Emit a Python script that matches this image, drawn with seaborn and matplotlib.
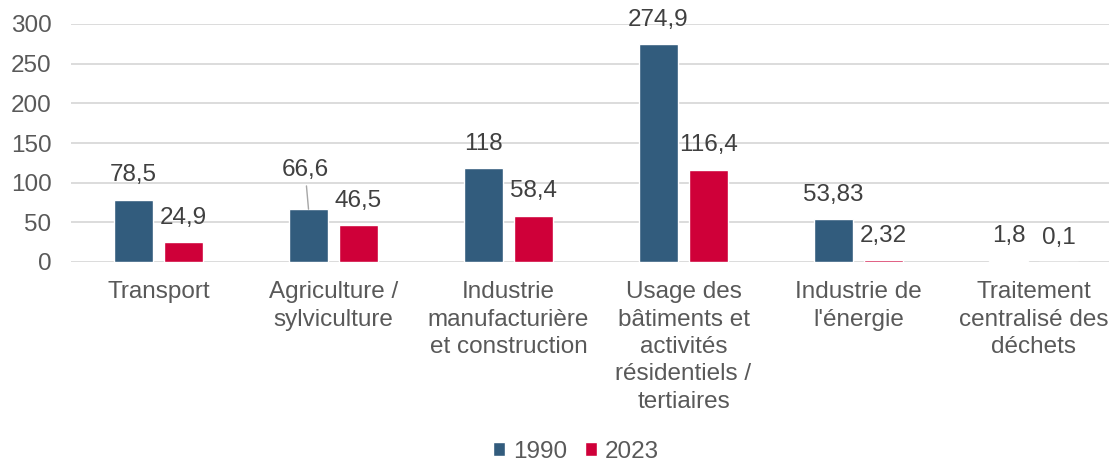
import pandas as pd
import matplotlib
matplotlib.use("Agg")
import matplotlib.pyplot as plt
import seaborn as sns

# data
categories = [
    "Transport",
    "Agriculture /\nsylviculture",
    "Industrie\nmanufacturière\net construction",
    "Usage des\nbâtiments et\nactivités\nrésidentiels /\ntertiaires",
    "Industrie de\nl'énergie",
    "Traitement\ncentralisé des\ndéchets",
]
values_1990 = [78.5, 66.6, 118, 274.9, 53.83, 1.8]
values_2023 = [24.9, 46.5, 58.4, 116.4, 2.32, 0.1]
years = ["1990", "2023"]

df = pd.DataFrame({
    "categorie": categories * 2,
    "annee": [years[0]] * len(categories) + [years[1]] * len(categories),
    "valeur": values_1990 + values_2023,
})

sns.set_theme(style="white")
plt.rcParams["font.family"] = ["Liberation Sans", "DejaVu Sans"]

blue = "#325C7D"
red = "#CF0039"
tick_col = "#595959"
lab_col = "#404040"
fs = 17.5

fig = plt.figure(figsize=(11.09, 4.63), dpi=100)
ax = fig.add_axes([71 / 1109, 1 - 262 / 463, 1050 / 1109, 238 / 463])

sns.barplot(data=df, x="categorie", y="valeur", hue="annee",
            palette=[blue, red], width=0.571, gap=0.22,
            saturation=1, ax=ax, legend=True)

ax.set_ylim(0, 300)
ax.set_yticks(range(0, 301, 50))
ax.set_xlim(-0.5, len(categories) - 0.5)
ax.set_xlabel("")
ax.set_ylabel("")
ax.yaxis.grid(True, color="#d9d9d9", linewidth=1.3)
ax.set_axisbelow(True)
for s in ax.spines.values():
    s.set_visible(False)
ax.tick_params(axis="both", length=0, labelsize=fs, labelcolor=tick_col)
ax.tick_params(axis="y", pad=14)
ax.tick_params(axis="x", pad=14)
for t in ax.get_xticklabels():
    t.set_linespacing(1.31)
    t.set_ha("center")

# data labels
def fmt(v):
    return f"{v:g}".replace(".", ",")

for cont, vals in zip(ax.containers, [values_1990, values_2023]):
    for bar, v in zip(cont, vals):
        x = bar.get_x() + bar.get_width() / 2
        y = bar.get_height()
        if v == 66.6:
            ax.annotate(fmt(v), xy=(x, y), xytext=(-2.5, 28),
                        textcoords="offset points", ha="center", va="center",
                        fontsize=fs, color=lab_col,
                        arrowprops=dict(arrowstyle="-", color="#a6a6a6",
                                        lw=1, shrinkA=1, shrinkB=0))
        else:
            ax.annotate(fmt(v), xy=(x, y), xytext=(0, 17.5),
                        textcoords="offset points", ha="center", va="center",
                        fontsize=fs, color=lab_col)

handles, labels = ax.get_legend_handles_labels()
ax.legend(handles, labels, loc="center", bbox_to_anchor=(576 / 1109, 1 - 452 / 463),
          bbox_transform=fig.transFigure, ncol=2, frameon=False,
          fontsize=fs, labelcolor=tick_col, handlelength=0.5, handleheight=0.5,
          handletextpad=0.35, columnspacing=0.7)

fig.savefig("out.png", dpi=100)
